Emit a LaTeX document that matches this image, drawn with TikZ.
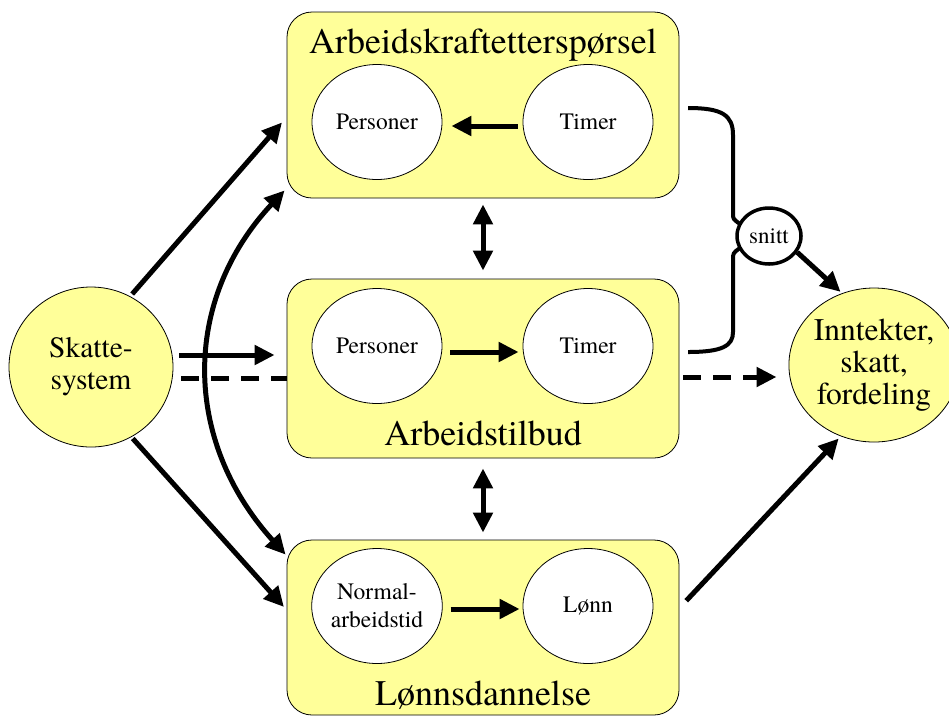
\documentclass[tikz,border=0pt]{standalone}
\usepackage{fontspec}
\setmainfont{texgyretermes}[Extension=.otf, UprightFont=*-regular, BoldFont=*-bold, ItalicFont=*-italic, BoldItalicFont=*-bolditalic]
\usetikzlibrary{arrows.meta,shapes.geometric,calc}
\definecolor{boxyellow}{RGB}{255,255,153}
\begin{document}
\begin{tikzpicture}[x=1pt,y=-1pt,
  box/.style={draw=black, line width=0.8pt, fill=boxyellow, rounded corners=25pt, minimum width=392pt, inner sep=0pt},
  oval/.style={ellipse, draw=black, line width=0.8pt, fill=white, minimum width=130pt, minimum height=115pt, inner sep=0pt, align=center, font=\fontsize{23.5}{28}\selectfont},
  bigoval/.style={ellipse, draw=black, line width=0.8pt, fill=boxyellow, inner sep=0pt, align=center},
  title/.style={font=\fontsize{36}{40}\selectfont, anchor=base},
  arr/.style={line width=5pt, -{Triangle[length=20pt,width=19pt]}},
  dbl/.style={line width=5pt, {Triangle[length=20pt,width=19pt]}-{Triangle[length=20pt,width=19pt]}},
  dsh/.style={line width=5pt, dash pattern=on 18pt off 12pt},
  brk/.style={line width=4pt}
]
\useasboundingbox (0,0) rectangle (949,716);

% boxes
\node[box, minimum height=186pt] (top) at (483,105) {};
\node[box, minimum height=179pt] (mid) at (483,368.5) {};
\node[box, minimum height=175pt] (bot) at (483,627.5) {};

\node[title] (ttop) at (483,53) {Arbeidskraftetterspørsel};
\node[title] (tmid) at (483,445) {Arbeidstilbud};
\node[title] (tbot) at (483,705) {Lønnsdannelse};

% inner ovals
\node[oval] (tP) at (377,122) {Personer};
\node[oval] (tT) at (588,122) {Timer};
\node[oval] (mP) at (377,346) {Personer};
\node[oval] (mT) at (588,346) {Timer};
\node[oval] (bN) at (377,606) {Normal-\\arbeidstid};
\node[oval] (bL) at (588,606) {Lønn};

% outer circles
\node[bigoval, minimum width=164pt, minimum height=160pt, font=\fontsize{29.5}{32}\selectfont] (sk) at (91,367) {Skatte-\\system};
\node[bigoval, minimum width=152pt, minimum height=154pt, font=\fontsize{31.5}{32}\selectfont] (inn) at (874,365) {Inntekter,\\skatt,\\fordeling};

% bracket
\draw[brk] (688,108) .. controls (722,108) and (733,115) .. (733,135) -- (733,213) .. controls (733,219) .. (740,224);
\draw[brk] (740,248) .. controls (733,253) .. (733,260) -- (733,332) .. controls (733,346) and (722,352) .. (688,352);
\node[ellipse, draw=black, line width=3.5pt, fill=white, minimum width=64pt, minimum height=56pt, inner sep=0pt, font=\fontsize{23}{26}\selectfont] (snitt) at (769,236) {snitt};

% inner arrows
\draw[arr, shorten <=5pt, shorten >=9pt] ([yshift=-4pt]tT.west) -- ([yshift=-4pt]tP.east);
\draw[arr, shorten <=8pt, shorten >=4pt] ([yshift=-6pt]mP.east) -- ([yshift=-6pt]mT.west);
\draw[arr, shorten <=8pt, shorten >=3pt] ([yshift=-3pt]bN.east) -- ([yshift=-3pt]bL.west);

% vertical double arrows
\draw[dbl, shorten <=6pt, shorten >=8pt] (top.south) -- (mid.north);
\draw[dbl, shorten <=10pt, shorten >=7pt] (mid.south) -- (bot.north);

% from Skattesystem
\draw[arr, shorten <=3pt, shorten >=7pt] (sk.61) -- ($(top.north west)!0.565!(top.south west)$);
\draw[arr, shorten <=2pt, shorten >=4pt] (sk.-60) -- ($(bot.north west)!0.4!(bot.south west)$);
\draw[arr, shorten <=6pt, shorten >=12pt] ([yshift=12pt]sk.east) -- ([yshift=13.5pt]mid.west);
\draw[dsh, shorten <=8pt] ([yshift=-11pt]sk.east) -- ([yshift=-9.5pt]mid.west);
\draw[dsh, shorten <=4pt, shorten >=12pt, -{Triangle[length=20pt,width=19pt]}] ([yshift=-8.5pt]mid.east) -- ([yshift=-12pt]inn.west);

% curved double arrow
\draw[dbl] ($(top.south west)+(-2,-8)$) .. controls (182,300) and (182,440) .. ($(bot.north west)+(-1,15)$);

% to Inntekter
\draw[arr, shorten >=2pt] (snitt.-30) -- (inn.114);
\draw[arr, shorten <=10pt, shorten >=3pt] ([yshift=19.5pt]bot.east) -- (inn.245);
\end{tikzpicture}
\end{document}
